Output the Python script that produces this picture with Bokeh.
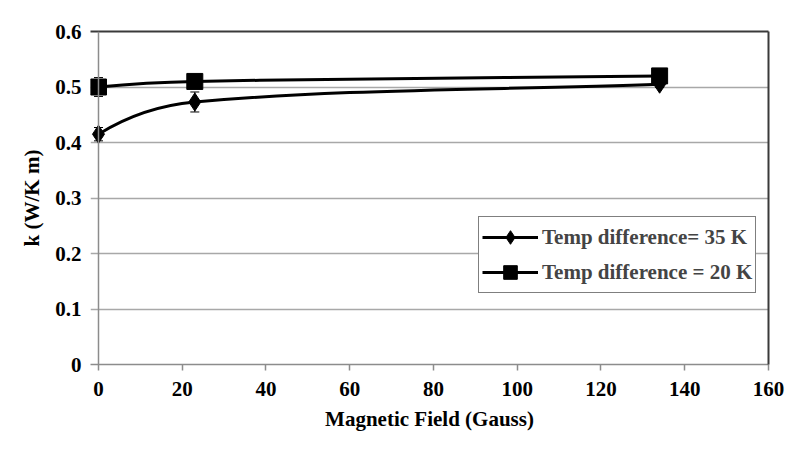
import numpy as np
from bokeh.plotting import figure
from bokeh.models import (LinearAxis, Range1d, Whisker, ColumnDataSource, Legend,
                          LegendItem, FixedTicker, Span)
from bokeh.embed import file_html
from bokeh.resources import INLINE

# ---------------- data ----------------
field = [0, 23, 134]
k_35 = [0.415, 0.473, 0.505]
err_35 = [0.012, 0.018, 0.006]
k_20 = [0.500, 0.510, 0.520]
err_20 = [0.017, 0.008, 0.006]
series_labels = ["Temp difference= 35 K", "Temp difference = 20 K"]
x_ticks = [0, 20, 40, 60, 80, 100, 120, 140, 160]
y_ticks = [0, 0.1, 0.2, 0.3, 0.4, 0.5, 0.6]
x_title = "Magnetic Field (Gauss)"
y_title = "k (W/K m)"

FONT = "Liberation Serif"
FS = "21px"

X0, X1 = -1.91, 160
Y0, Y1 = 0, 0.6
FRAME_W, FRAME_H = 678, 333
SX = FRAME_W / (X1 - X0)
SY = FRAME_H / (Y1 - Y0)


def smooth_source(xs, ys):
    """Cubic Bezier control points for a smoothed line through the points."""
    P = np.column_stack([np.asarray(xs, float) * SX, np.asarray(ys, float) * SY])
    n = len(P)
    chords = [P[i + 1] - P[i] for i in range(n - 1)]
    units = [c / np.hypot(*c) for c in chords]
    d = [None] * n
    for i in range(1, n - 1):
        v = P[i + 1] - P[i - 1]
        d[i] = v / np.hypot(*v)
    u = units[0]
    d[0] = 2 * np.dot(u, d[1]) * u - d[1] if n > 2 else u
    d[n - 1] = units[-1]
    out = dict(x0=[], y0=[], x1=[], y1=[], cx0=[], cy0=[], cx1=[], cy1=[])
    for i in range(n - 1):
        L = np.hypot(*chords[i]) / 3
        c0 = P[i] + d[i] * L
        c1 = P[i + 1] - d[i + 1] * L
        out["x0"].append(xs[i]); out["y0"].append(ys[i])
        out["x1"].append(xs[i + 1]); out["y1"].append(ys[i + 1])
        out["cx0"].append(c0[0] / SX); out["cy0"].append(c0[1] / SY)
        out["cx1"].append(c1[0] / SX); out["cy1"].append(c1[1] / SY)
    return ColumnDataSource(out)


p = figure(width=801, height=447, output_backend="svg", toolbar_location=None,
           x_range=Range1d(X0, X1), y_range=Range1d(Y0, Y1),
           min_border_left=90, min_border_right=33, min_border_top=31,
           min_border_bottom=83, x_axis_location=None, y_axis_location=None)
p.outline_line_color = None
p.background_fill_color = "white"
p.border_fill_color = "white"

AX_GRAY = "#8c8c8c"

xa = LinearAxis(ticker=FixedTicker(ticks=x_ticks), axis_label=x_title)
ya = LinearAxis(ticker=FixedTicker(ticks=y_ticks), axis_label=y_title)
for ax in (xa, ya):
    ax.axis_line_color = AX_GRAY
    ax.axis_line_width = 1.5
    ax.major_tick_line_color = AX_GRAY
    ax.major_tick_line_width = 1.5
    ax.minor_tick_line_color = None
    ax.major_label_text_font = FONT
    ax.major_label_text_font_style = "bold"
    ax.major_label_text_font_size = FS
    ax.major_label_text_color = "black"
    ax.axis_label_text_font = FONT
    ax.axis_label_text_font_style = "bold"
    ax.axis_label_text_font_size = FS
    ax.axis_label_text_color = "black"
xa.major_tick_in = 0
xa.major_tick_out = 6
xa.major_label_standoff = 11
xa.axis_label_standoff = 8
ya.axis_line_color = None
ya.major_tick_line_color = None
ya.major_tick_in = 0
ya.major_tick_out = 0
ya.major_label_standoff = 9
ya.axis_label_standoff = 8
p.add_layout(xa, "below")
p.add_layout(ya, "left")

# the value axis line itself, at field = 0
p.add_layout(Span(location=0, dimension="height", line_color=AX_GRAY, line_width=1.5))

# dark top and right frame lines
for loc in ("above", "right"):
    fa = LinearAxis(ticker=FixedTicker(ticks=[]), axis_line_color="#3a3a3a",
                    axis_line_width=2, major_tick_line_color=None,
                    minor_tick_line_color=None, major_label_text_font_size="0px")
    p.add_layout(fa, loc)

p.xgrid.visible = False
p.ygrid.ticker = FixedTicker(ticks=y_ticks[1:-1])
p.ygrid.grid_line_color = "#a8a8a8"
p.ygrid.grid_line_width = 1.3

# error bars
for ys, es in ((k_35, err_35), (k_20, err_20)):
    src = ColumnDataSource(dict(x=field,
                                lo=[y - e for y, e in zip(ys, es)],
                                hi=[y + e for y, e in zip(ys, es)]))
    w = Whisker(source=src, base="x", lower="lo", upper="hi", dimension="height",
                line_color="black", line_width=1)
    w.upper_head.size = 9
    w.lower_head.size = 9
    w.upper_head.line_color = "black"
    w.lower_head.line_color = "black"
    p.add_layout(w)

# smoothed curves and markers
bz = dict(x0="x0", y0="y0", x1="x1", y1="y1", cx0="cx0", cy0="cy0",
          cx1="cx1", cy1="cy1", line_color="black", line_width=3)
b35 = p.bezier(source=smooth_source(field, k_35), **bz)
b20 = p.bezier(source=smooth_source(field, k_20), **bz)
m35 = p.scatter(field, k_35, marker="diamond", size=18,
                fill_color="black", line_color="black")
m20 = p.scatter(field, k_20, marker="square", size=16,
                fill_color="black", line_color="black")

legend = Legend(items=[LegendItem(label=series_labels[0], renderers=[b35, m35]),
                       LegendItem(label=series_labels[1], renderers=[b20, m20])],
                location=(388, 71), orientation="vertical")
legend.border_line_color = "black"
legend.border_line_width = 1
legend.background_fill_color = "white"
legend.background_fill_alpha = 1
legend.label_text_font = FONT
legend.label_text_font_style = "bold"
legend.label_text_font_size = FS
legend.label_text_baseline = "middle"
legend.glyph_width = 56
legend.glyph_height = 34
legend.label_height = 34
legend.label_standoff = 4
legend.padding = 3
legend.spacing = 1
legend.margin = 0
p.add_layout(legend, "center")

open("out.html", "w").write(file_html(p, INLINE))
